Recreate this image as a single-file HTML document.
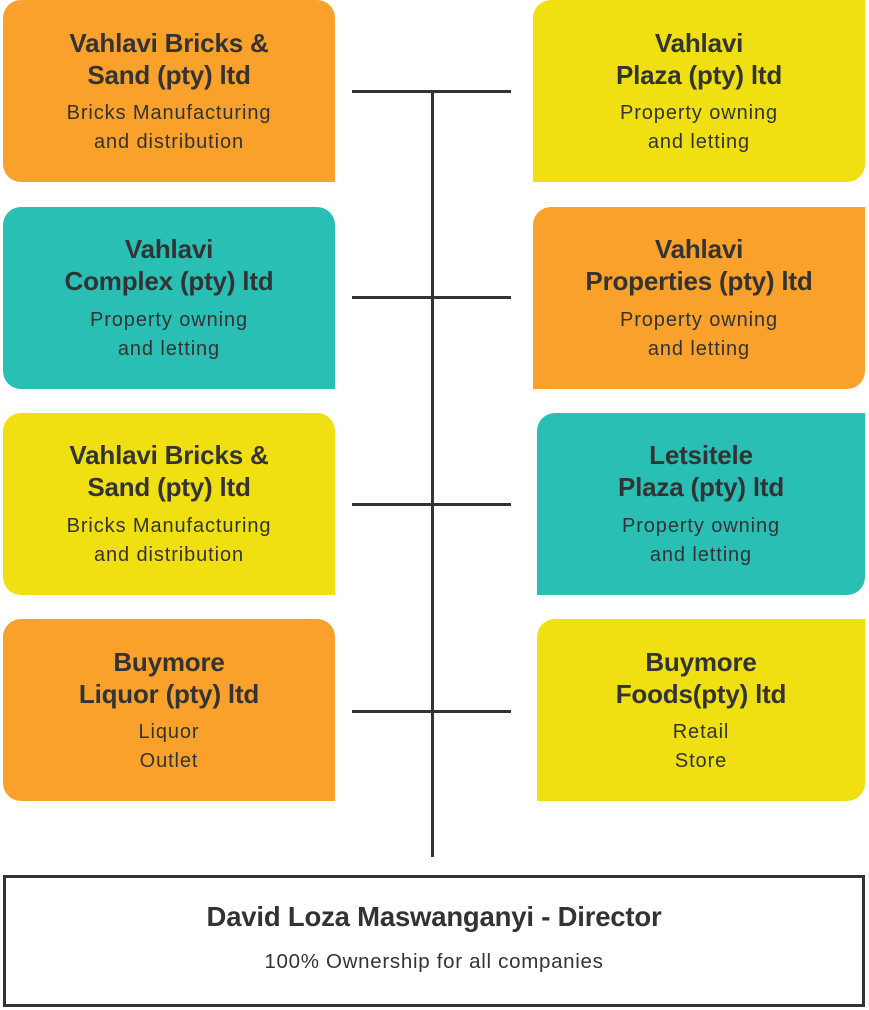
<!DOCTYPE html>
<html><head><meta charset="utf-8"><style>
body{margin:0;width:869px;height:1010px;background:#fff;position:relative;overflow:hidden;font-family:"Liberation Sans",sans-serif;color:#333;}
.b{position:absolute;width:332px;height:182px;}
.L{left:3px;border-radius:18px 18px 0 18px;}
.R{left:533px;border-radius:18px 0 18px 0;}
.o{background:#F9A12A}.t{background:#29BFB5}.y{background:#F0E012}
.ln{position:absolute;left:0;right:0;text-align:center;white-space:nowrap;}
.h{font-weight:bold;font-size:26px;letter-spacing:-0.2px;line-height:32px;}
.s{font-size:20px;letter-spacing:0.9px;line-height:29px;}
.hl{position:absolute;left:352px;width:159px;height:3px;background:#333;}
</style></head><body>
<div style="position:absolute;left:431px;top:90px;width:3px;height:767px;background:#333"></div>
<div class="hl" style="top:90px"></div>
<div class="hl" style="top:296px"></div>
<div class="hl" style="top:503px"></div>
<div class="hl" style="top:710px"></div>

<div class="b L o" style="top:0"><div class="ln h" style="top:27px">Vahlavi Bricks &amp;<br>Sand (pty) ltd</div><div class="ln s" style="top:99px">Bricks Manufacturing<br>and distribution</div></div>
<div class="b R y" style="top:0"><div class="ln h" style="top:27px">Vahlavi<br>Plaza (pty) ltd</div><div class="ln s" style="top:99px">Property owning<br>and letting</div></div>

<div class="b L t" style="top:207px"><div class="ln h" style="top:26px">Vahlavi<br>Complex (pty) ltd</div><div class="ln s" style="top:99px">Property owning<br>and letting</div></div>
<div class="b R o" style="top:207px"><div class="ln h" style="top:26px">Vahlavi<br>Properties (pty) ltd</div><div class="ln s" style="top:99px">Property owning<br>and letting</div></div>

<div class="b L y" style="top:413px"><div class="ln h" style="top:26px">Vahlavi Bricks &amp;<br>Sand (pty) ltd</div><div class="ln s" style="top:99px">Bricks Manufacturing<br>and distribution</div></div>
<div class="b R t" style="top:413px;left:537px;width:328px"><div class="ln h" style="top:26px">Letsitele<br>Plaza (pty) ltd</div><div class="ln s" style="top:99px">Property owning<br>and letting</div></div>

<div class="b L o" style="top:619px"><div class="ln h" style="top:27px">Buymore<br>Liquor (pty) ltd</div><div class="ln s" style="top:99px">Liquor<br>Outlet</div></div>
<div class="b R y" style="top:619px;left:537px;width:328px"><div class="ln h" style="top:27px">Buymore<br>Foods(pty) ltd</div><div class="ln s" style="top:99px">Retail<br>Store</div></div>

<div style="position:absolute;left:3px;top:875px;width:856px;height:126px;border:3px solid #333;">
<div class="ln h" style="top:23px;font-size:27.5px">David Loza Maswanganyi - Director</div>
<div class="ln" style="top:72px;font-size:20.5px;letter-spacing:0.7px">100% Ownership for all companies</div>
</div>
</body></html>
